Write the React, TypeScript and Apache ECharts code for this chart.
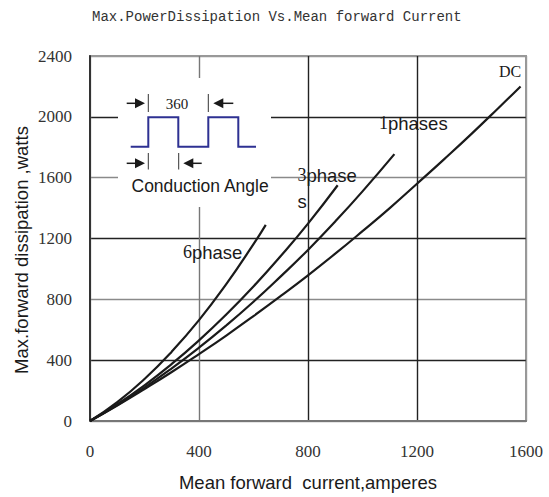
import React, { useEffect, useRef } from "react";
import * as echarts from "echarts";

// Mean forward current (A) → max forward dissipation (W)
const dcCurrent = [0, 100, 200, 300, 400, 500, 600, 700, 800, 900, 1000, 1100, 1200, 1300, 1400, 1500, 1580];
const dcPower = [0, 102, 210, 322, 440, 562, 690, 822, 958, 1100, 1248, 1400, 1560, 1722, 1888, 2060, 2200];

const ph1Current = [0, 100, 200, 300, 400, 500, 600, 700, 800, 900, 1000, 1117];
const ph1Power = [0, 105, 220, 346, 482, 628, 784, 951, 1125, 1312, 1510, 1755];

const ph3Current = [0, 100, 200, 300, 400, 500, 600, 700, 800, 909];
const ph3Power = [0, 110, 235, 375, 530, 700, 885, 1085, 1298, 1550];

const ph6Current = [0, 100, 200, 300, 400, 500, 600, 645];
const ph6Power = [0, 124, 276, 456, 663, 900, 1163, 1290];

const xTicks = [0, 400, 800, 1200, 1600];
const yTicks = [0, 400, 800, 1200, 1600, 2000, 2400];

const titleText = "Max.PowerDissipation Vs.Mean forward Current";
const xName = "Mean forward  current,amperes";
const yName = "Max.forward dissipation ,watts";

const pairs = (xs: number[], ys: number[]) => xs.map((x, i) => [x, ys[i]]);

const curveStyle = { color: "#1a1a1a", width: 2.2 };

export default function App() {
  const ref = useRef<HTMLDivElement>(null);
  useEffect(() => {
    if (!ref.current) return;
    document.body.style.margin = "0";
    const chart = echarts.init(ref.current, null, { renderer: "svg" });
    const sans = "Liberation Sans";
    const serif = "Liberation Serif";
    const blue = "#2e3192";
    const arrowColor = "#1a1a1a";
    const mkLine = (x1: number, y1: number, x2: number, y2: number, color = arrowColor, w = 1.5) => ({
      type: "line",
      z: 10,
      shape: { x1, y1, x2, y2 },
      style: { stroke: color, lineWidth: w },
    });
    const mkHead = (tipX: number, baseX: number, y: number) => ({
      type: "polygon",
      z: 10,
      shape: { points: [[tipX, y], [baseX, y - 5], [baseX, y + 5]] },
      style: { fill: arrowColor },
    });
    const txt = (text: string, x: number, y: number, font: string, size: number, align = "center") => ({
      type: "text",
      z: 10,
      x,
      y,
      style: { text, fontFamily: font, fontSize: size, fill: "#1a1a1a", align, verticalAlign: "middle" },
    });

    chart.setOption({
      animation: false,
      backgroundColor: "#fff",
      title: {
        text: titleText,
        left: 87,
        top: 5,
        textStyle: { fontFamily: "Liberation Mono", fontSize: 14, fontWeight: "normal", color: "#333" },
      },
      grid: { left: 90, right: 23, top: 56, bottom: 74, show: true, borderColor: "#999", borderWidth: 2 },
      xAxis: {
        type: "value",
        min: 0,
        max: 1600,
        interval: 400,
        name: xName,
        nameLocation: "middle",
        nameGap: 52,
        nameTextStyle: { fontFamily: sans, fontSize: 18.5, color: "#1a1a1a" },
        axisLine: { show: true, lineStyle: { color: "#777", width: 2 } },
        axisTick: { show: false },
        axisLabel: {
          margin: 22,
          fontFamily: serif,
          fontSize: 17,
          color: "#333",
          customValues: xTicks,
          formatter: (v: number) => String(v),
        },
        splitLine: { show: true, lineStyle: { color: ["#999", "#777", "#222", "#222", "#999"], width: 1.4 } },
      },
      yAxis: {
        type: "value",
        min: 0,
        max: 2400,
        interval: 400,
        axisLine: { show: true, lineStyle: { color: "#333", width: 2 } },
        axisTick: { show: false },
        axisLabel: {
          margin: 18,
          fontFamily: serif,
          fontSize: 17,
          color: "#333",
          customValues: yTicks,
          formatter: (v: number) => String(v),
        },
        splitLine: {
          show: true,
          lineStyle: { color: ["#999", "#222", "#8a8a8a", "#222", "#8a8a8a", "#222", "#999"], width: 1.4 },
        },
      },
      series: [
        { name: "DC", type: "line", data: pairs(dcCurrent, dcPower), smooth: true, symbol: "none", lineStyle: curveStyle },
        { name: "1phases", type: "line", data: pairs(ph1Current, ph1Power), smooth: true, symbol: "none", lineStyle: curveStyle },
        { name: "3phases", type: "line", data: pairs(ph3Current, ph3Power), smooth: true, symbol: "none", lineStyle: curveStyle },
        { name: "6phase", type: "line", data: pairs(ph6Current, ph6Power), smooth: true, symbol: "none", lineStyle: curveStyle },
      ],
      graphic: [
        {
          type: "text",
          z: 10,
          x: 21.5,
          y: 250,
          rotation: Math.PI / 2,
          style: { text: yName, fontFamily: sans, fontSize: 18.5, fill: "#1a1a1a", align: "center", verticalAlign: "middle" },
        },
        { type: "rect", z: 5, shape: { x: 118, y: 78, width: 153, height: 129 }, style: { fill: "#fff" } },
        // 360 dimension
        mkLine(126.7, 103.3, 137, 103.3),
        mkHead(145, 135, 103.3),
        mkLine(148.3, 94, 148.3, 112, "#333", 1),
        mkLine(208.3, 94, 208.3, 112, "#333", 1),
        mkHead(213.3, 223.3, 103.3),
        mkLine(221, 103.3, 233.3, 103.3),
        txt("360", 177, 103.5, serif, 15),
        // square wave
        {
          type: "polyline",
          z: 10,
          shape: {
            points: [
              [130.7, 146.7], [148.3, 146.7], [148.3, 117.3], [178.3, 117.3], [178.3, 146.7],
              [208.3, 146.7], [208.3, 117.3], [238.3, 117.3], [238.3, 146.7], [256, 146.7],
            ],
          },
          style: { stroke: blue, lineWidth: 2, fill: null },
        },
        // conduction angle dimension
        mkLine(126.7, 163.3, 137, 163.3),
        mkHead(145, 135, 163.3),
        mkLine(148.3, 153, 148.3, 169.5, "#333", 1),
        mkLine(178.7, 153, 178.7, 169.5, "#333", 1),
        mkHead(183.3, 193.3, 163.3),
        mkLine(191, 163.3, 201.7, 163.3),
        txt("Conduction Angle", 131.5, 186, sans, 17.5, "left"),
        // curve labels
        txt("DC", 510, 71, serif, 16),
        txt("1", 379, 123, serif, 18, "left"),
        txt("phases", 388, 123, sans, 18.5, "left"),
        txt("3", 297.5, 175, serif, 18, "left"),
        txt("phase", 306.5, 175, sans, 18.5, "left"),
        txt("s", 297.5, 201.5, sans, 18.5, "left"),
        txt("6", 183, 252, serif, 18, "left"),
        txt("phase", 192, 252, sans, 18.5, "left"),
      ],
    });
    return () => chart.dispose();
  }, []);
  return <div ref={ref} style={{ width: 549, height: 497 }} />;
}
